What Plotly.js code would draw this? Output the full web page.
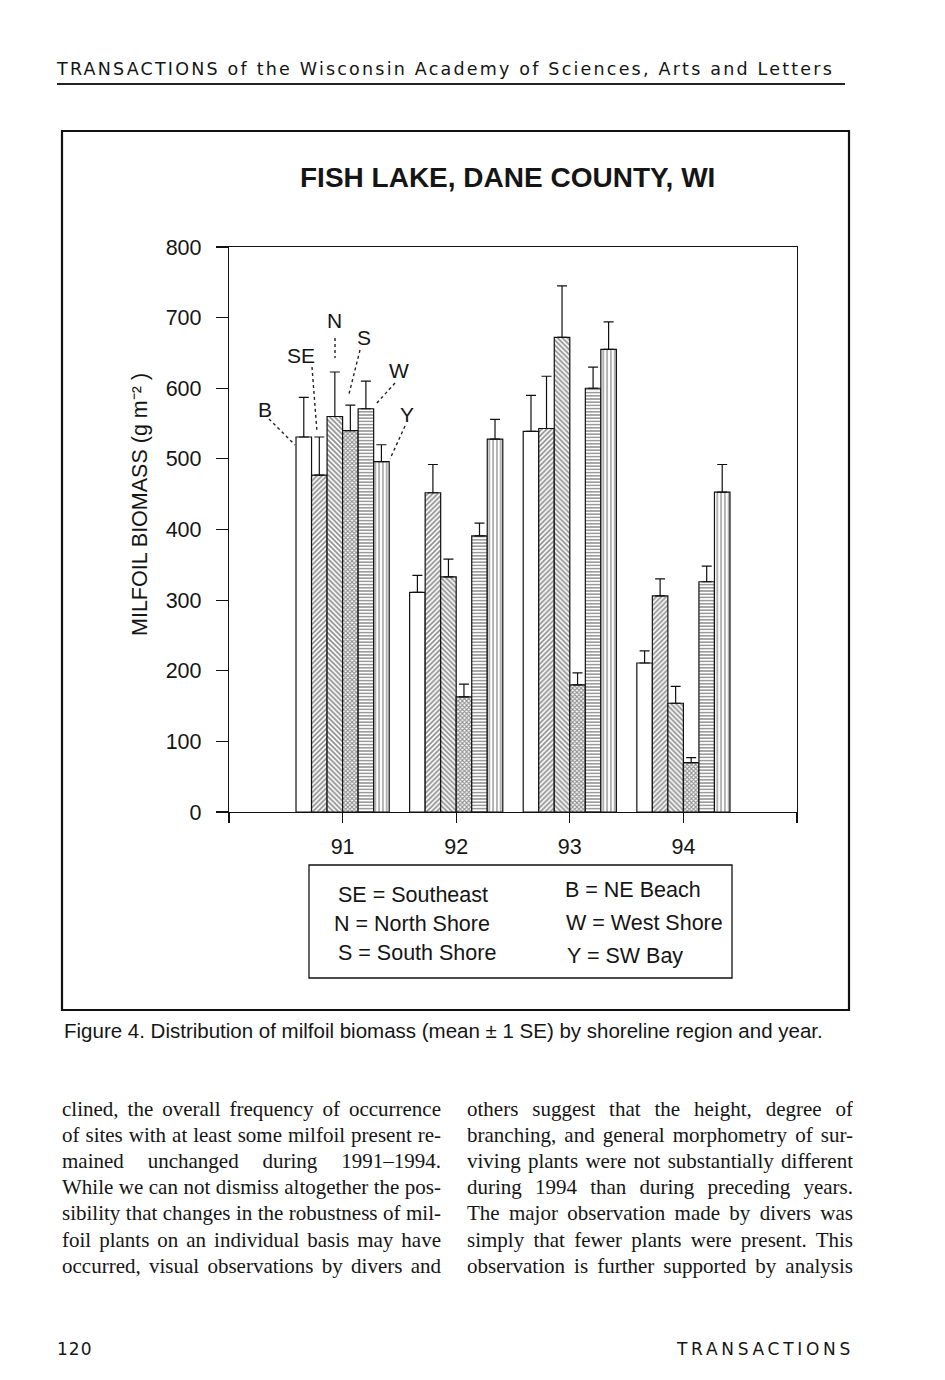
<!DOCTYPE html>
<html><head><meta charset="utf-8">
<script src="https://cdn.plot.ly/plotly-3.0.1.min.js"></script>
</head>
<body style="margin:0;background:#fff;"><div id="page" style="position:relative;width:945px;height:1380px;overflow:hidden;background:#fff;"><div id="chart" style="position:absolute;left:0;top:0;width:945px;height:1380px;"></div>
<div id="hdr" style="position:absolute;white-space:nowrap;color:#151515;font-family:'DejaVu Sans','Liberation Sans',Arial,sans-serif;left:57px;top:59px;font-size:17.5px;">TRANSACTIONS of the Wisconsin Academy of Sciences, Arts and Letters</div>
<div style="position:absolute;left:57px;top:83px;width:788px;height:2px;background:#222;"></div>
<div style="position:absolute;white-space:nowrap;color:#151515;font-family:'DejaVu Sans','Liberation Sans',Arial,sans-serif;left:57px;top:1339px;font-size:17px;letter-spacing:1px;">120</div>
<div id="ftr" style="position:absolute;white-space:nowrap;color:#151515;font-family:'DejaVu Sans','Liberation Sans',Arial,sans-serif;left:677px;top:1339px;font-size:17px;">TRANSACTIONS</div>
</div>
<script>
// ---- data ----
const years = [91, 92, 93, 94];
const tickLabels = ['91', '92', '93', '94'];
const yTicks = [0, 100, 200, 300, 400, 500, 600, 700, 800];
const regions = ['B', 'SE', 'N', 'S', 'W', 'Y'];
const valB  = [531, 311, 539, 211];
const valSE = [477, 452, 543, 306];
const valN  = [560, 333, 672, 154];
const valS  = [540, 163, 180, 70];
const valW  = [571, 391, 600, 326];
const valY  = [496, 528, 655, 453];
const seB  = [56, 24, 51, 17];
const seSE = [54, 40, 74, 24];
const seN  = [63, 25, 73, 24];
const seS  = [36, 18, 17, 7];
const seW  = [39, 18, 30, 22];
const seY  = [24, 28, 39, 39];
const legendLeft  = ['SE = Southeast', 'N = North Shore', 'S = South Shore'];
const legendRight = ['B = NE Beach', 'W = West Shore', 'Y = SW Bay'];
const bodyLeft = [
 'clined, the overall frequency of occurrence',
 'of sites with at least some milfoil present re-',
 'mained unchanged during 1991\u20131994.',
 'While we can not dismiss altogether the pos-',
 'sibility that changes in the robustness of mil-',
 'foil plants on an individual basis may have',
 'occurred, visual observations by divers and'];
const bodyRight = [
 'others suggest that the height, degree of',
 'branching, and general morphometry of sur-',
 'viving plants were not substantially different',
 'during 1994 than during preceding years.',
 'The major observation made by divers was',
 'simply that fewer plants were present. This',
 'observation is further supported by analysis'];

// ---- page text ----
const page = document.getElementById('page');
const lineY = [1110, 1136, 1162, 1188, 1214, 1241, 1267];
function addLines(lines, left, width){
  lines.forEach((s,i)=>{
    const d=document.createElement('div');
    Object.assign(d.style, {position:'absolute', left:left+'px', width:width+'px', top:(lineY[i]-14)+'px',
      height:'27px', overflow:'hidden', color:'#151515', fontFamily:"'Liberation Serif','DejaVu Serif',serif",
      fontSize:'21px', lineHeight:'26px', textAlign:'justify', textAlignLast:'justify', whiteSpace:'normal'});
    d.textContent=s; page.appendChild(d);
  });
}
addLines(bodyLeft, 62, 379);
addLines(bodyRight, 467, 386);
function fit(id, width){
  const el=document.getElementById(id); const n=el.textContent.length;
  el.style.letterSpacing='0px';
  const w=el.getBoundingClientRect().width;
  el.style.letterSpacing=((width-w)/n)+'px';
}
fit('hdr', 777); fit('ftr', 177);

// ---- chart ----
const W=945, H=1380;
const px=x=>x/W, py=y=>1-y/H;
const FONT='Liberation Sans, Arial, sans-serif';
const vals=[valB,valSE,valN,valS,valW,valY];
const ses=[seB,seSE,seN,seS,seW,seY];
const pats=[
  {shape:'', size:4, solidity:0.3},
  {shape:'/', size:3.5, solidity:0.5},
  {shape:'\\', size:3.5, solidity:0.5},
  {shape:'x', size:3, solidity:0.6},
  {shape:'-', size:3.2, solidity:0.45},
  {shape:'|', size:3.8, solidity:0.35}];
const traces = regions.map((r,i)=>({
  type:'bar', name:r, x:years, y:vals[i],
  marker:{color:'white', line:{color:'#111', width:1.2},
    pattern:{shape:pats[i].shape, size:pats[i].size, solidity:pats[i].solidity, fgcolor:'#222', bgcolor:'white', fillmode:'overlay'}},
  error_y:{type:'data', symmetric:false, array:ses[i], arrayminus:years.map(()=>0), color:'#111', thickness:1.2, width:5},
  hoverinfo:'skip'
}));

const ann=[];
function txt(s,x,y,size,opts){ ann.push(Object.assign({text:s, xref:'paper', yref:'paper', x:px(x), y:py(y), showarrow:false, font:{family:FONT,size:size,color:'#151515'}, xanchor:'center', yanchor:'middle'}, opts||{})); }
txt('<b>FISH LAKE, DANE COUNTY, WI</b>', 507, 177, 28);
txt('MILFOIL BIOMASS (g m\u207B\u00B2 )', 140, 505, 21.5, {textangle:-90});
txt('B', 265, 409, 21); txt('SE', 301, 355, 21); txt('N', 334, 320, 21);
txt('S', 364, 337, 21); txt('W', 399, 370, 21); txt('Y', 407, 414, 21);
const legLY=[895,924,953], legRY=[890,923,956];
legendLeft.forEach((s,i)=>txt(s, 335+(i===1?-3:1), legLY[i], 21.5, {xanchor:'left'}));
legendRight.forEach((s,i)=>txt(s, 563+i, legRY[i], 21.5, {xanchor:'left'}));
txt('Figure 4. Distribution of milfoil biomass (mean \u00b1 1 SE) by shoreline region and year.', 62, 1030, 20.5, {xanchor:'left'});

const shapes=[];
function seg(x0,y0,x1,y1,opt){ shapes.push(Object.assign({type:'line', xref:'paper', yref:'paper', x0:px(x0), y0:py(y0), x1:px(x1), y1:py(y1), line:{color:'#222', width:1.4, dash:'dot'}}, opt||{})); }
seg(269,419,295,445); seg(312,367,317,432); seg(335,338,335,358);
seg(360,350,349,394); seg(395,383,376,404); seg(405,426,390,459);
shapes.push({type:'rect', xref:'paper', yref:'paper', x0:px(309), x1:px(732), y0:py(978), y1:py(865), line:{color:'#111', width:1.3}});
shapes.push({type:'rect', xref:'paper', yref:'paper', x0:px(62), x1:px(849), y0:py(1010), y1:py(131), line:{color:'#111', width:2.2}});

const layout={
  width:W, height:H, margin:{l:0,r:0,t:0,b:0},
  paper_bgcolor:'white', plot_bgcolor:'white', showlegend:false,
  barmode:'group', bargap:0.18, bargroupgap:0,
  font:{family:FONT, color:'#151515'},
  xaxis:{domain:[px(229),px(797)], range:[90,95], tickmode:'array', tickvals:years, ticktext:tickLabels,
    ticks:'outside', ticklen:10, tickwidth:1.2, tickcolor:'#111', showline:true, linecolor:'#111', linewidth:1.2,
    minor:{tickmode:'array', tickvals:[90,95], ticks:'outside', ticklen:10, tickwidth:1.2, tickcolor:'#111', showgrid:false},
    mirror:true, showgrid:false, zeroline:false, tickfont:{size:21.5, family:FONT}, ticklabelstandoff:5, fixedrange:true},
  yaxis:{domain:[py(812),py(247)], range:[0,800], tickmode:'array', tickvals:yTicks,
    ticks:'outside', ticklen:12, tickwidth:1.2, tickcolor:'#111', showline:true, linecolor:'#111', linewidth:1.2,
    mirror:true, showgrid:false, zeroline:false, tickfont:{size:21.5, family:FONT}, ticklabelstandoff:10, fixedrange:true},
  annotations:ann, shapes:shapes
};
Plotly.newPlot('chart', traces, layout, {staticPlot:true, displayModeBar:false});
</script>
</body></html>
